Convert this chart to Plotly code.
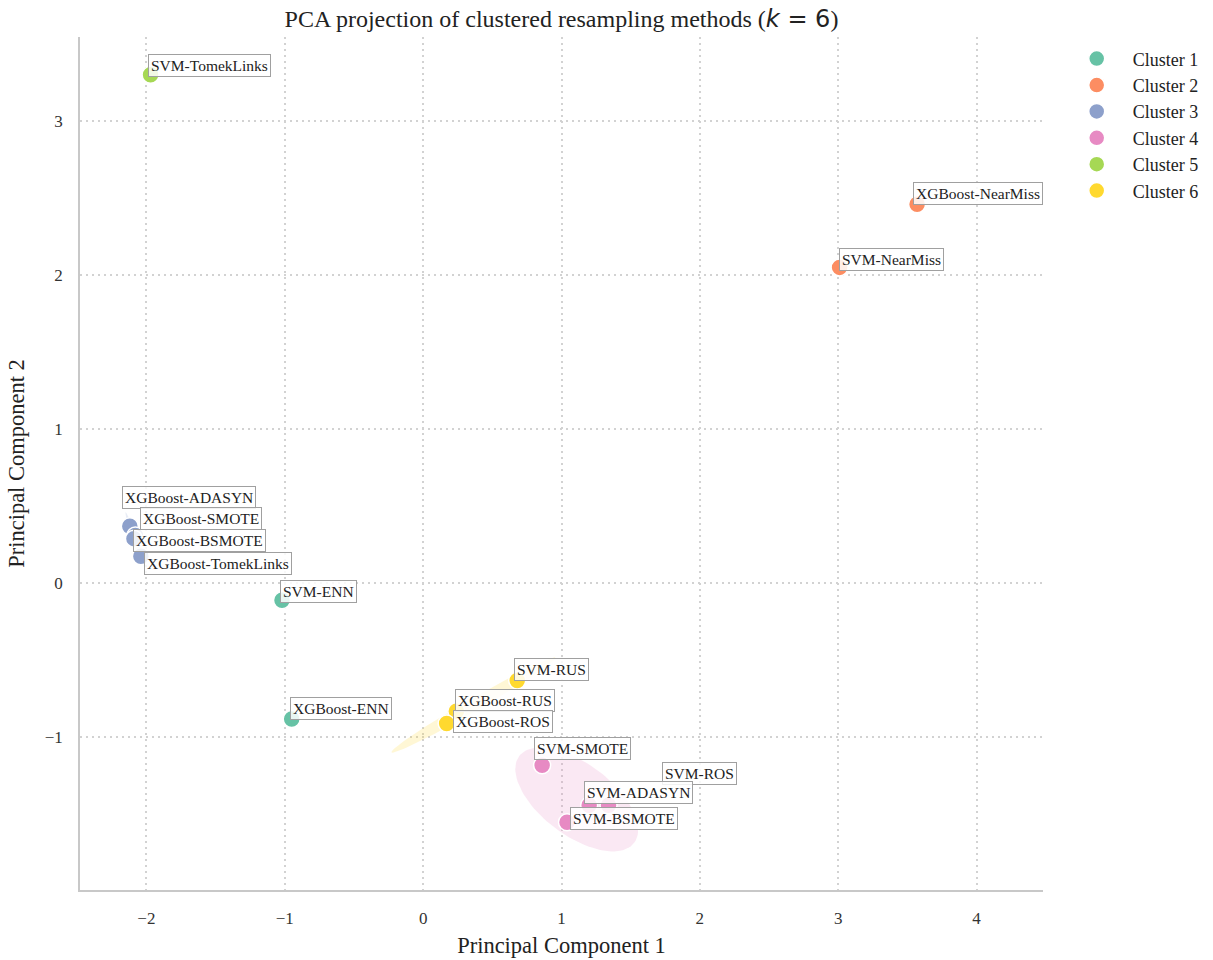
import numpy as np
import plotly.graph_objects as go

# PCA coordinates of each resampling method, grouped by k-means cluster
methods = [
    "SVM-TomekLinks",
    "XGBoost-NearMiss", "SVM-NearMiss",
    "XGBoost-ADASYN", "XGBoost-SMOTE", "XGBoost-BSMOTE", "XGBoost-TomekLinks",
    "SVM-ENN", "XGBoost-ENN",
    "SVM-RUS", "XGBoost-RUS", "XGBoost-ROS",
    "SVM-SMOTE", "SVM-ROS", "SVM-ADASYN", "SVM-BSMOTE",
]
pc1 = [-1.97,
       3.57, 3.01,
       -2.12, -2.08, -2.09, -2.04,
       -1.02, -0.95,
       0.68, 0.24, 0.17,
       0.86, 1.34, 1.20, 1.04]
pc2 = [3.30,
       2.46, 2.05,
       0.37, 0.31, 0.29, 0.175,
       -0.11, -0.88,
       -0.63, -0.83, -0.91,
       -1.18, -1.44, -1.44, -1.55]
cluster = [5,
           2, 2,
           3, 3, 3, 3,
           1, 1,
           6, 6, 6,
           4, 4, 4, 4]

cluster_names = ["Cluster 1", "Cluster 2", "Cluster 3", "Cluster 4", "Cluster 5", "Cluster 6"]
palette = ["#66c2a5", "#fc8d62", "#8da0cb", "#e78ac3", "#a6d854", "#ffd92f"]

# pixel offsets of each label box (left edge, vertical centre) from its point
label_offsets = {
    "SVM-TomekLinks": (-3, -9),
    "XGBoost-NearMiss": (-4, -11),
    "SVM-NearMiss": (-1, -8),
    "XGBoost-ADASYN": (-8, -29),
    "XGBoost-SMOTE": (5, -17),
    "XGBoost-BSMOTE": (-1, 2),
    "XGBoost-TomekLinks": (3, 7),
    "SVM-ENN": (-2, -9),
    "XGBoost-ENN": (-2, -10),
    "SVM-RUS": (-3, -11),
    "XGBoost-RUS": (-1, -11),
    "XGBoost-ROS": (6, -2),
    "SVM-SMOTE": (-8, -17),
    "SVM-ROS": (53, -32),
    "SVM-ADASYN": (-5, -13),
    "SVM-BSMOTE": (3, -4),
}

SERIF = "Liberation Serif, Times New Roman, serif"
N_STD = np.sqrt(4.605)  # 90% confidence region for two dimensions


def hex_rgba(h, a):
    h = h.lstrip("#")
    r, g, b = int(h[0:2], 16), int(h[2:4], 16), int(h[4:6], 16)
    return f"rgba({r},{g},{b},{a})"


pc1_arr = np.array(pc1)
pc2_arr = np.array(pc2)
cl_arr = np.array(cluster)

fig = go.Figure()

# covariance ellipses for clusters with enough members
for ci, (name, col) in enumerate(zip(cluster_names, palette), start=1):
    mask = cl_arr == ci
    if mask.sum() < 3:
        continue
    pts = np.vstack([pc1_arr[mask], pc2_arr[mask]])
    mean = pts.mean(axis=1)
    cov = np.cov(pts)
    vals, vecs = np.linalg.eigh(cov)
    vals = np.clip(vals, 0, None)
    t = np.linspace(0, 2 * np.pi, 120)
    circle = np.vstack([np.cos(t), np.sin(t)])
    ell = vecs @ (np.sqrt(vals)[:, None] * N_STD * circle) + mean[:, None]
    fig.add_trace(go.Scatter(
        x=ell[0], y=ell[1], mode="lines", fill="toself",
        fillcolor=hex_rgba(col, 0.2), line=dict(width=0),
        hoverinfo="skip", showlegend=False,
    ))

# the points themselves
for ci, (name, col) in enumerate(zip(cluster_names, palette), start=1):
    mask = cl_arr == ci
    fig.add_trace(go.Scatter(
        x=pc1_arr[mask], y=pc2_arr[mask], mode="markers", name=name,
        legendgroup=name,
        marker=dict(size=17, color=col, line=dict(color="white", width=1.5)),
        text=[m for m, k in zip(methods, mask) if k],
        hovertemplate="%{text}<br>PC1=%{x:.2f}<br>PC2=%{y:.2f}<extra></extra>",
    ))

# method labels in boxed annotations
for m, x, y in zip(methods, pc1, pc2):
    dx, dy = label_offsets[m]
    fig.add_annotation(
        x=x, y=y, text=m, showarrow=False,
        xanchor="left", yanchor="middle", xshift=dx, yshift=-dy,
        font=dict(family=SERIF, size=15.5, color="#222222"),
        bgcolor="rgba(255,255,255,0.85)", bordercolor="#a0a0a0",
        borderwidth=1, borderpad=2,
    )

axis_common = dict(
    showgrid=True, gridcolor="#d2d2d2", griddash="2px,4px", gridwidth=2,
    zeroline=False, showline=True, linecolor="#c8c8c8", linewidth=1.5,
    ticks="", ticklabelstandoff=12,
    tickfont=dict(family=SERIF, size=17, color="#333333"),
    title_font=dict(family=SERIF, size=22.5, color="#222222"),
)

fig.update_layout(
    width=1213, height=960,
    margin=dict(l=80, r=170, t=37, b=70, autoexpand=False),
    paper_bgcolor="white", plot_bgcolor="white",
    title=dict(
        text="PCA projection of clustered resampling methods "
             "(<span style='font-family:DejaVu Sans'><i>k</i> = 6</span>)",
        x=(80 + 1043) / 2 / 1213, xanchor="center", y=0.981, yanchor="middle",
        font=dict(family=SERIF, size=24, color="#222222"),
    ),
    xaxis=dict(range=[-2.48, 4.48], dtick=1, automargin=False,
               title=dict(text="Principal Component 1", standoff=10),
               **axis_common),
    yaxis=dict(range=[-1.99, 3.545], dtick=1, automargin=False,
               title=dict(text="Principal Component 2", standoff=14),
               **axis_common),
    legend=dict(
        x=1.0184, y=0.996, xanchor="left", yanchor="top",
        font=dict(family=SERIF, size=18, color="#222222"),
        bgcolor="rgba(0,0,0,0)", itemsizing="trace", itemwidth=62,
        tracegroupgap=0,
    ),
    showlegend=True,
)

fig.write_html("out.html")
